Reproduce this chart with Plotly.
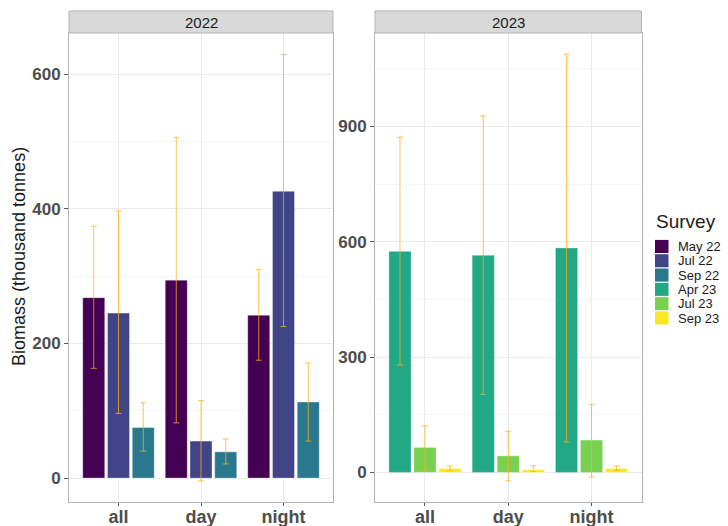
import plotly.graph_objects as go

# Categories and survey labels
periods = ["all", "day", "night"]
surveys_2022 = ["May 22", "Jul 22", "Sep 22"]
surveys_2023 = ["Apr 23", "Jul 23", "Sep 23"]
survey_colors = ["#440154", "#414487", "#2A788E", "#22A884", "#7AD151", "#FDE725"]

# Biomass estimates (thousand tonnes) per survey, ordered all/day/night
may22 = [268, 294, 242]
may22_lo = [163, 82, 175]
may22_hi = [374, 506, 310]

jul22 = [245, 55, 426]
jul22_lo = [96, -4, 225]
jul22_hi = [397, 115, 629]

sep22 = [75, 39, 113]
sep22_lo = [40, 21, 55]
sep22_hi = [112, 58, 171]

apr23 = [575, 565, 584]
apr23_lo = [279, 203, 79]
apr23_hi = [872, 927, 1088]

jul23 = [65, 43, 84]
jul23_lo = [5, -22, -12]
jul23_hi = [121, 107, 177]

sep23 = [10, 7, 10]
sep23_lo = [4, 2, 5]
sep23_hi = [17, 17, 17]

ticks_2022 = [0, 200, 400, 600]
ticks_2023 = [0, 300, 600, 900]

series = [
    ("May 22", may22, may22_lo, may22_hi, "x", "y"),
    ("Jul 22", jul22, jul22_lo, jul22_hi, "x", "y"),
    ("Sep 22", sep22, sep22_lo, sep22_hi, "x", "y"),
    ("Apr 23", apr23, apr23_lo, apr23_hi, "x2", "y2"),
    ("Jul 23", jul23, jul23_lo, jul23_hi, "x2", "y2"),
    ("Sep 23", sep23, sep23_lo, sep23_hi, "x2", "y2"),
]

FONT = "Liberation Sans, Arial, sans-serif"
W, H = 728, 526

fig = go.Figure()
for (name, vals, lo, hi, xa, ya), col in zip(series, survey_colors):
    fig.add_trace(go.Bar(
        name=name, x=periods, y=vals, xaxis=xa, yaxis=ya,
        marker=dict(color=col, line=dict(color="rgba(255,255,255,0.6)", width=0.6)),
        error_y=dict(
            type="data", symmetric=False,
            array=[h - v for h, v in zip(hi, vals)],
            arrayminus=[v - l for v, l in zip(vals, lo)],
            color="rgba(255,176,20,0.75)", thickness=1, width=3,
        ),
        showlegend=False,
    ))

# Panel geometry in pixels
p1 = (69, 333)
p2 = (375, 641.5)
top_px, bot_px = 33, 502
strip_top = 11

def px_x(v):
    return v / W

def px_y(v):
    return 1 - v / H

border = "#B3B3B3"
grid_major = "#EBEBEB"
grid_minor = "#F5F5F5"
tick_font = dict(family=FONT, size=17, color="#4D4D4D")

common_x = dict(
    type="category", range=[-0.6, 2.6], showgrid=True, gridcolor=grid_major,
    gridwidth=1, showline=True, linecolor=border, linewidth=1, mirror=True,
    ticks="outside", ticklen=3, tickcolor="#555555", automargin=False,
    ticklabelstandoff=-5,
    tickfont=dict(family=FONT, size=18, color="#4D4D4D", weight="bold"),
    fixedrange=True,
)
common_y = dict(
    showgrid=True, gridcolor=grid_major, gridwidth=1, zeroline=False,
    showline=True, linecolor=border, linewidth=1, mirror=True,
    ticks="outside", ticklen=4, tickcolor="#555555", automargin=False,
    tickfont=dict(tick_font, weight="bold"), fixedrange=True,
)

fig.update_layout(
    width=W, height=H,
    margin=dict(l=0, r=0, t=0, b=0, autoexpand=False),
    paper_bgcolor="white", plot_bgcolor="white",
    barmode="group", bargap=0.1, bargroupgap=0.11,
    font=dict(family=FONT, color="#1A1A1A"),
    xaxis=dict(common_x, domain=[px_x(p1[0]), px_x(p1[1])], anchor="y"),
    xaxis2=dict(common_x, domain=[px_x(p2[0]), px_x(p2[1])], anchor="y2"),
    yaxis=dict(common_y, domain=[px_y(bot_px), px_y(top_px)], anchor="x",
               range=[-35.5, 661], tickvals=ticks_2022,
               minor=dict(dtick=100, tick0=0, showgrid=True, gridcolor=grid_minor, ticks="")),
    yaxis2=dict(common_y, domain=[px_y(bot_px), px_y(top_px)], anchor="x2",
                range=[-77, 1143], tickvals=ticks_2023,
                minor=dict(dtick=150, tick0=0, showgrid=True, gridcolor=grid_minor, ticks="")),
)

# Facet strips
shapes = []
annotations = []
for (x0, x1), label in [(p1, "2022"), (p2, "2023")]:
    shapes.append(dict(
        type="rect", xref="paper", yref="paper",
        x0=px_x(x0), x1=px_x(x1), y0=px_y(top_px), y1=px_y(strip_top),
        fillcolor="#D9D9D9", line=dict(color=border, width=1), layer="above",
    ))
    annotations.append(dict(
        text=label, xref="paper", yref="paper",
        x=px_x((x0 + x1) / 2), y=px_y((top_px + strip_top) / 2),
        xanchor="center", yanchor="middle", showarrow=False,
        font=dict(family=FONT, size=15, color="#1A1A1A"),
    ))

# Y axis title
annotations.append(dict(
    text="Biomass (thousand tonnes)", xref="paper", yref="paper",
    x=px_x(19), y=px_y(257), textangle=-90,
    xanchor="center", yanchor="middle", showarrow=False,
    font=dict(family=FONT, size=18, color="#1A1A1A"),
))

# Survey key
all_surveys = surveys_2022 + surveys_2023
annotations.append(dict(
    text="Survey", xref="paper", yref="paper",
    x=px_x(654), y=px_y(222), xanchor="left", yanchor="middle",
    showarrow=False, font=dict(family=FONT, size=19, color="#1A1A1A"),
))
key_top = 239.5
key_h = 14.3
for i, (name, col) in enumerate(zip(all_surveys, survey_colors)):
    y0 = key_top + i * key_h
    shapes.append(dict(
        type="rect", xref="paper", yref="paper",
        x0=px_x(655), x1=px_x(668.5), y0=px_y(y0 + key_h - 0.8), y1=px_y(y0 + 0.4),
        fillcolor=col, line=dict(width=0),
    ))
    annotations.append(dict(
        text=name, xref="paper", yref="paper",
        x=px_x(677), y=px_y(y0 + key_h / 2), xanchor="left", yanchor="middle",
        showarrow=False, borderpad=0,
        font=dict(family=FONT, size=13, color="#1A1A1A"),
    ))

fig.update_layout(shapes=shapes, annotations=annotations)

fig.write_html("out.html")
